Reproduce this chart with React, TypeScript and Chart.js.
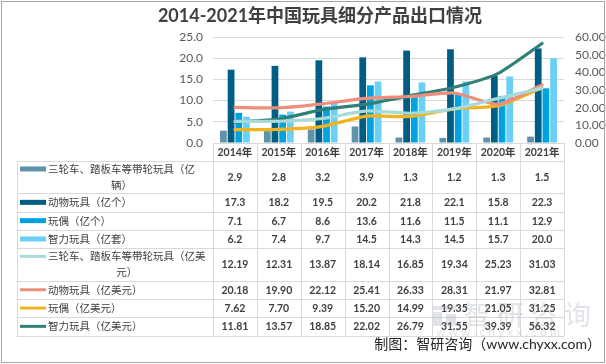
import React, { useEffect, useRef } from "react";
import { Chart, registerables } from "chart.js";

Chart.register(...registerables);

const years = ["2014年", "2015年", "2016年", "2017年", "2018年", "2019年", "2020年", "2021年"];

const trikeQty = [2.9, 2.8, 3.2, 3.9, 1.3, 1.2, 1.3, 1.5];
const animalQty = [17.3, 18.2, 19.5, 20.2, 21.8, 22.1, 15.8, 22.3];
const dollQty = [7.1, 6.7, 8.6, 13.6, 11.6, 11.5, 11.1, 12.9];
const puzzleQty = [6.2, 7.4, 9.7, 14.5, 14.3, 14.5, 15.7, 20.0];

const trikeVal = [12.19, 12.31, 13.87, 18.14, 16.85, 19.34, 25.23, 31.03];
const animalVal = [20.18, 19.9, 22.12, 25.41, 26.33, 28.31, 21.97, 32.81];
const dollVal = [7.62, 7.7, 9.39, 15.2, 14.99, 19.35, 21.05, 31.25];
const puzzleVal = [11.81, 13.57, 18.85, 22.02, 26.79, 31.55, 39.39, 56.32];

const leftTicks = [0, 5, 10, 15, 20, 25];
const rightTicks = [0, 10, 20, 30, 40, 50, 60];

const title = "2014-2021年中国玩具细分产品出口情况";
const source = "制图：智研咨询（www.chyxx.com）";
const watermarkName = ["智", "研", "咨", "询"];
const watermarkUrl = "w w w . c h y x x . c o m";

type Row = { lines: string[]; values: number[]; color: string; kind: "bar" | "line"; decimals: number };

const rows: Row[] = [
  { lines: ["三轮车、踏板车等带轮玩具（亿", "辆）"], values: trikeQty, color: "#5E93AB", kind: "bar", decimals: 1 },
  { lines: ["动物玩具（亿个）"], values: animalQty, color: "#005E85", kind: "bar", decimals: 1 },
  { lines: ["玩偶（亿个）"], values: dollQty, color: "#00A2DF", kind: "bar", decimals: 1 },
  { lines: ["智力玩具（亿套）"], values: puzzleQty, color: "#6CCFF6", kind: "bar", decimals: 1 },
  { lines: ["三轮车、踏板车等带轮玩具（亿美", "元）"], values: trikeVal, color: "#A7DAD8", kind: "line", decimals: 2 },
  { lines: ["动物玩具（亿美元）"], values: animalVal, color: "#EE8F7D", kind: "line", decimals: 2 },
  { lines: ["玩偶（亿美元）"], values: dollVal, color: "#F2B41E", kind: "line", decimals: 2 },
  { lines: ["智力玩具（亿美元）"], values: puzzleVal, color: "#2E8078", kind: "line", decimals: 2 },
];

const FONT = "Lato, 'Noto Sans CJK SC', sans-serif";

const decorPlugin = {
  id: "decor",
  beforeDraw(chart: any) {
    const ctx = chart.ctx;
    ctx.save();
    ctx.fillStyle = "#ffffff";
    ctx.fillRect(0, 0, chart.width, chart.height);
    ctx.restore();
  },
  afterDraw(chart: any) {
    const ctx: CanvasRenderingContext2D = chart.ctx;
    const area = chart.chartArea;
    const xs = chart.scales.x;
    const n = years.length;
    const colW = (area.right - area.left) / n;
    ctx.save();

    // title
    ctx.fillStyle = "#404040";
    ctx.font = `bold 18px ${FONT}`;
    ctx.textAlign = "center";
    ctx.textBaseline = "middle";
    ctx.fillText(title, 320, 16);

    // table
    const tableLeft = 16.7;
    const headerTop = area.bottom;
    const headerH = 17.7;
    const singleH = 18.3;
    const doubleH = 32.5;
    const lineH = 16;
    const grid = "#d9d9d9";
    const px = (v: number) => Math.round(v) + 0.5;

    let y = headerTop + headerH;
    const bounds: number[] = [y];
    rows.forEach((r) => {
      y += r.lines.length > 1 ? doubleH : singleH;
      bounds.push(y);
    });
    const tableBottom = y;

    ctx.strokeStyle = grid;
    ctx.lineWidth = 1;
    ctx.beginPath();
    bounds.forEach((b) => {
      ctx.moveTo(tableLeft, px(b));
      ctx.lineTo(area.right, px(b));
    });
    ctx.moveTo(px(tableLeft), px(bounds[0]));
    ctx.lineTo(px(tableLeft), px(tableBottom));
    for (let i = 0; i <= n; i++) {
      const xv = px(area.left + i * colW);
      ctx.moveTo(xv, headerTop);
      ctx.lineTo(xv, px(tableBottom));
    }
    ctx.stroke();

    // header years
    ctx.fillStyle = "#404040";
    ctx.font = `bold 10.5px ${FONT}`;
    ctx.textAlign = "center";
    ctx.textBaseline = "middle";
    years.forEach((yr, i) => {
      ctx.fillText(yr, xs.getPixelForValue(i), headerTop + headerH / 2 + 0.5);
    });

    rows.forEach((r, ri) => {
      const top = bounds[ri];
      const bottom = bounds[ri + 1];
      const cy = (top + bottom) / 2;
      const firstY = cy - ((r.lines.length - 1) * lineH) / 2;
      // marker
      ctx.fillStyle = r.color;
      if (r.kind === "bar") {
        ctx.fillRect(20, firstY - 2.5, 26, 5);
      } else {
        ctx.fillRect(20, firstY - 1.5, 26, 3);
      }
      // label
      ctx.fillStyle = "#404040";
      ctx.font = `10.5px ${FONT}`;
      ctx.textBaseline = "middle";
      const w0 = ctx.measureText(r.lines[0]).width;
      r.lines.forEach((ln, li) => {
        if (li === 0) {
          ctx.textAlign = "left";
          ctx.fillText(ln, 48, firstY + 0.5);
        } else {
          ctx.textAlign = "center";
          ctx.fillText(ln, 48 + w0 / 2, firstY + li * lineH + 0.5);
        }
      });
      // values
      ctx.textAlign = "center";
      ctx.font = `bold 10.5px ${FONT}`;
      r.values.forEach((v, i) => {
        ctx.fillText(v.toFixed(r.decimals), xs.getPixelForValue(i), cy + 0.5);
      });
    });

    // watermark
    ctx.globalAlpha = 0.28;
    ctx.fillStyle = "#8f9ba8";
    ctx.font = `27px 'Noto Sans CJK SC', sans-serif`;
    ctx.textAlign = "center";
    ctx.textBaseline = "middle";
    watermarkName.forEach((ch, i) => {
      ctx.fillText(ch, 477 + i * 33.5, 315);
    });
    ctx.fillRect(433, 306, 23, 4);
    ctx.fillRect(433, 312, 9, 14);
    ctx.fillRect(446, 314, 10, 12);
    ctx.font = `12px ${FONT}`;
    ctx.textAlign = "left";
    ctx.fillText(watermarkUrl, 436, 332);
    ctx.globalAlpha = 1;

    // source
    ctx.fillStyle = "#262626";
    ctx.font = `14px ${FONT}`;
    ctx.textAlign = "right";
    ctx.textBaseline = "middle";
    ctx.fillText(source, 601, 344);

    // outer border
    ctx.strokeStyle = "#a6a6a6";
    ctx.lineWidth = 1;
    ctx.strokeRect(1.5, 1.5, 603, 361);
    ctx.restore();
  },
};

export default function App() {
  const ref = useRef<HTMLCanvasElement | null>(null);

  useEffect(() => {
    if (!ref.current) return;
    const barDs = (label: string, data: number[], color: string) => ({
      type: "bar" as const,
      label,
      data,
      backgroundColor: color,
      borderWidth: 0,
      yAxisID: "y",
      order: 2,
      categoryPercentage: 0.7,
      barPercentage: 0.88,
    });
    const lineDs = (label: string, data: number[], color: string) => ({
      type: "line" as const,
      label,
      data,
      borderColor: color,
      backgroundColor: color,
      borderWidth: 3.2,
      pointRadius: 0,
      tension: 0.2,
      borderCapStyle: "round" as const,
      borderJoinStyle: "round" as const,
      yAxisID: "y1",
      order: 1,
    });
    const chart = new Chart(ref.current, {
      type: "bar",
      data: {
        labels: years,
        datasets: [
          barDs(rows[0].lines.join(""), trikeQty, rows[0].color),
          barDs(rows[1].lines.join(""), animalQty, rows[1].color),
          barDs(rows[2].lines.join(""), dollQty, rows[2].color),
          barDs(rows[3].lines.join(""), puzzleQty, rows[3].color),
          lineDs(rows[4].lines.join(""), trikeVal, rows[4].color),
          lineDs(rows[5].lines.join(""), animalVal, rows[5].color),
          lineDs(rows[6].lines.join(""), dollVal, rows[6].color),
          lineDs(rows[7].lines.join(""), puzzleVal, rows[7].color),
        ] as any,
      },
      options: {
        responsive: false,
        animation: false,
        devicePixelRatio: 1,
        layout: { padding: { top: 37, bottom: 221, left: 0, right: 0 } },
        plugins: {
          legend: { display: false },
          title: { display: false },
          tooltip: { enabled: false },
        },
        scales: {
          x: {
            type: "category",
            offset: true,
            display: false,
            grid: { display: false },
          },
          y: {
            position: "left",
            min: 0,
            max: 25,
            afterBuildTicks: (s: any) => {
              s.ticks = leftTicks.map((v) => ({ value: v }));
            },
            afterFit: (s: any) => {
              s.width = 213;
            },
            ticks: {
              color: "#595959",
              font: { family: FONT, size: 12 },
              padding: 10,
              callback: (v: any) => Number(v).toFixed(1),
            },
            grid: { color: "#d9d9d9", drawTicks: false, lineWidth: 1 },
            border: { display: false },
          },
          y1: {
            position: "right",
            min: 0,
            max: 60,
            afterBuildTicks: (s: any) => {
              s.ticks = rightTicks.map((v) => ({ value: v }));
            },
            afterFit: (s: any) => {
              s.width = 42;
            },
            ticks: {
              color: "#595959",
              font: { family: FONT, size: 12 },
              padding: 11,
              callback: (v: any) => Number(v).toFixed(2),
            },
            grid: { display: false, drawTicks: false },
            border: { display: false },
          },
        },
      } as any,
      plugins: [decorPlugin],
    });
    return () => chart.destroy();
  }, []);

  return (
    <div style={{ position: "absolute", left: 0, top: 0, width: 606, height: 364 }}>
      <canvas ref={ref} width={606} height={364} style={{ width: 606, height: 364, display: "block" }} />
    </div>
  );
}
